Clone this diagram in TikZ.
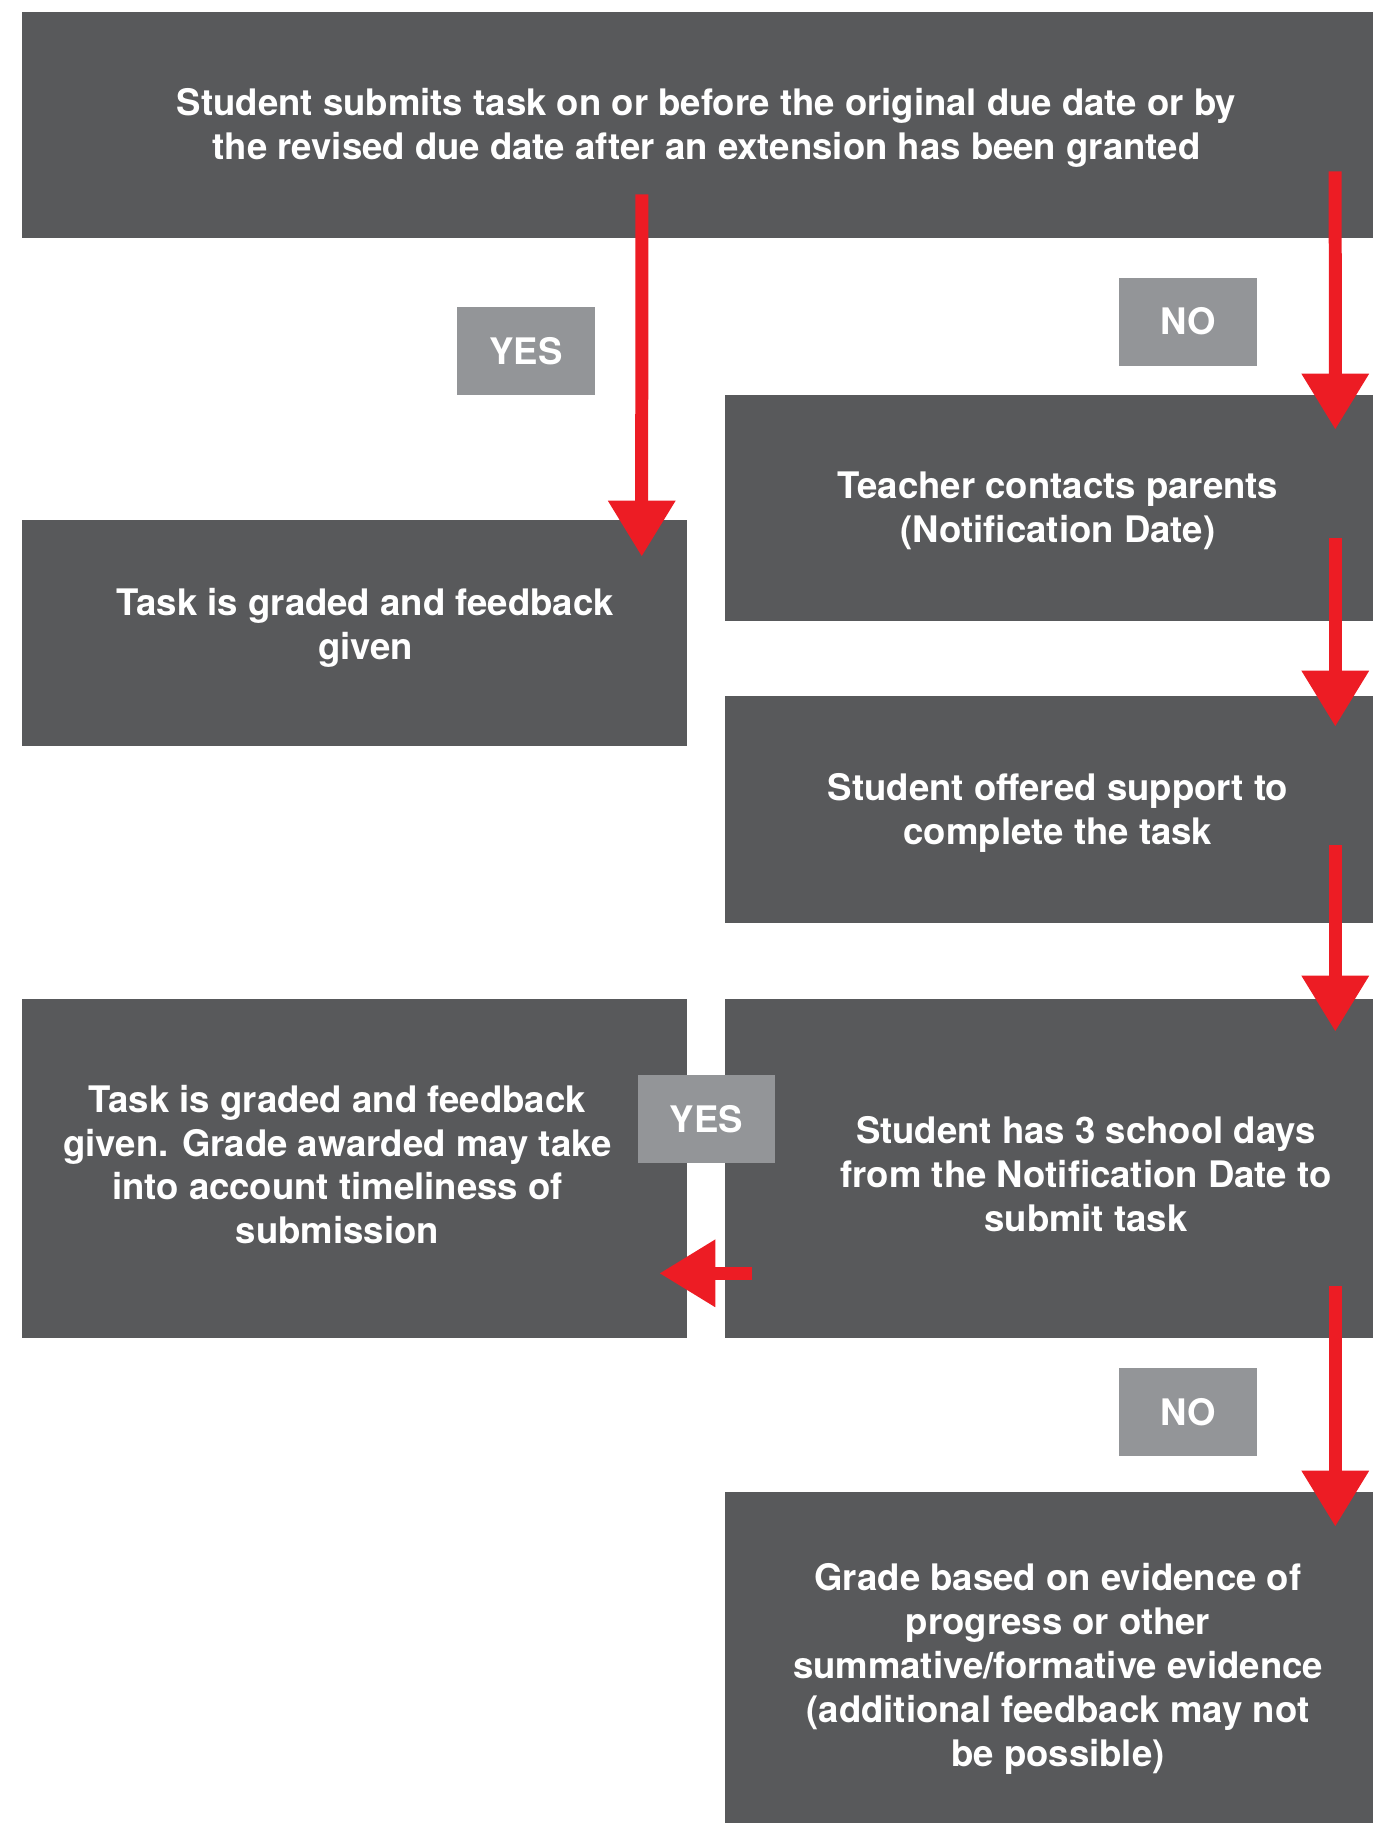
\documentclass[tikz,border=0pt]{standalone}
\usepackage{fontspec}
\setmainfont{TeX Gyre Heros}
\usepackage{tikz}
\usetikzlibrary{arrows.meta,calc}
\usepackage{xcolor}
\definecolor{boxgray}{HTML}{58595B}
\definecolor{taggray}{HTML}{939598}
\definecolor{flowred}{HTML}{ED1C24}
\tikzset{
txt/.style={text=white,align=center,font=\bfseries\fontsize{20.8}{25}\selectfont},
box/.style={txt,fill=boxgray,inner sep=0pt},
tag/.style={txt,fill=taggray,inner sep=0pt,minimum width=2.76cm,minimum height=1.76cm},
flow/.style={draw=flowred,line width=0.26cm,-{Triangle[width=1.28cm,length=1.12cm]}}
}

\begin{document}
\begin{tikzpicture}[x=0.02cm,y=-0.02cm]
\useasboundingbox (0,0) rectangle (1373,1823);
\clip (0,0) rectangle (1373,1823);

\node[box,minimum width=27.38cm,minimum height=4.52cm] (top) at (706.5,125) {};
\node[txt] (toptxt) at ($(top.center)+(0,3)$) {Student submits task on or before the original due date or by\\the revised due date after an extension has been granted};

\node[box,minimum width=13.3cm,minimum height=4.52cm] (taskA) at (354.5,633) {};
\node[txt] (taskAtxt) at ($(taskA.center)+(11,-5)$) {Task is graded and feedback\\given};

\node[box,minimum width=13.32cm,minimum height=4.52cm] (teach) at (1058,508) {};
\node[txt] (teachtxt) at ($(teach.center)+(0,3)$) {Teacher contacts parents\\(Notification Date)};

\node[box,minimum width=13.32cm,minimum height=4.54cm] (offer) at (1058,809.5) {};
\node[txt] (offertxt) at ($(offer.center)+(0,3)$) {Student offered support to\\complete the task};

\node[box,minimum width=13.3cm,minimum height=6.78cm] (taskB) at (354.5,1168.5) {};
\node[txt] (taskBtxt) at ($(taskB.center)+(-17,-4)$) {Task is graded and feedback\\given. Grade awarded may take\\into account timeliness of\\submission};

\node[box,minimum width=13.32cm,minimum height=6.78cm] (stud3) at (1058,1168.5) {};
\node[txt] (stud3txt) at ($(stud3.center)+(28,6)$) {Student has 3 school days\\from the Notification Date to\\submit task};

\node[box,minimum width=13.32cm,minimum height=6.92cm] (grade) at (1058,1665) {};
\node[txt] (gradetxt) at ($(grade.center)+(0,4)$) {Grade based on evidence of\\progress or other\\summative/formative evidence\\(additional feedback may not\\be possible)};

% yes / no tags
\node[tag] (yesA) at (526,351) {YES};
\node[tag] (noA) at (1188,321.5) {NO};
\node[tag] (yesB) at (706.5,1119) {YES};
\node[tag] (noB) at (1188,1412) {NO};

\draw[flow] ($(top.south west)+(620,-44)$) -- ($(taskA.north west)+(620,37)$);
\draw[flow] ($(top.south east)+(-56,-67)$) -- ($(teach.north east)+(-56,35)$);
\draw[flow] ($(teach.south east)+(-56,-83)$) -- ($(offer.north east)+(-56,31)$);
\draw[flow] ($(offer.south east)+(-56,-78)$) -- ($(stud3.north east)+(-56,33)$);
\draw[flow] ($(stud3.south east)+(-56,-52)$) -- ($(grade.north east)+(-56,35)$);
\draw[flow] ($(stud3.south west)+(27,-65)$) -- ($(taskB.south east)+(-28,-65)$);
\end{tikzpicture}
\end{document}
